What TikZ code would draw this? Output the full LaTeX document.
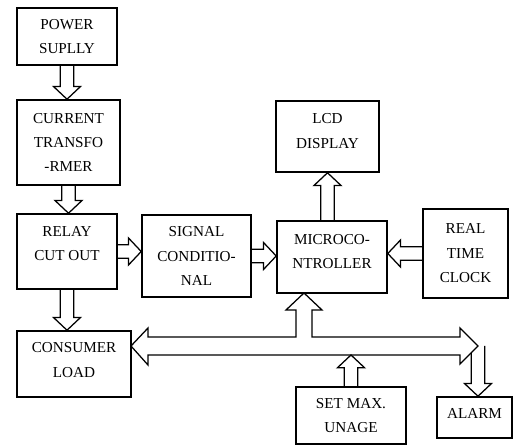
\documentclass[tikz,border=0pt]{standalone}
\usepackage{fontspec}
\setmainfont{Liberation Serif}
\usetikzlibrary{calc}

\tikzset{
  blk/.style={draw, line width=1.1pt, align=center, inner sep=2pt},
  fatline/.style={line width=0.9pt, line join=miter},
}
% hollow block arrow from #1 to #2
\newcommand{\shaftw}{0.17cm}
\newcommand{\headw}{0.34cm}
\newcommand{\headl}{0.32cm}
\newcommand{\fatarrow}[2]{%
  \coordinate (fatbase) at ($(#2)!\headl!(#1)$);
  \draw[fatline] ($(#1)!\shaftw!90:(#2)$) -- ($(fatbase)!\shaftw!-90:(#1)$)
    -- ($(fatbase)!\headw!-90:(#1)$) -- (#2) -- ($(fatbase)!\headw!90:(#1)$)
    -- ($(fatbase)!\shaftw!90:(#1)$) -- ($(#1)!\shaftw!-90:(#2)$);}

\begin{document}
\begin{tikzpicture}[
  x=0.025cm, y=-0.025cm, font=\fontsize{10.8}{17.4}\selectfont
]
\useasboundingbox (0,0) rectangle (515,445);

% blocks
\node[blk, minimum width=2.5cm, minimum height=1.425cm] (ps) at (67,36.5) {POWER\\SUPLLY};
\node[blk, minimum width=2.575cm, minimum height=2.125cm] (ct) at (68.5,142.5) {CURRENT\\TRANSFO\\-RMER};
\node[blk, minimum width=2.5cm, minimum height=1.875cm, text depth=0.4cm] (rc) at (67,251.5) {RELAY\\CUT OUT};
\node[blk, minimum width=2.725cm, minimum height=2.05cm] (sc) at (196.5,256) {SIGNAL\\CONDITIO-\\NAL};
\node[blk, minimum width=2.85cm, minimum height=1.65cm, text depth=0.2cm] (cl) at (74,364) {CONSUMER\\LOAD};
\node[blk, minimum width=2.575cm, minimum height=1.775cm, text depth=0.275cm] (lcd) at (327.5,136.5) {LCD\\DISPLAY};
\node[blk, minimum width=2.75cm, minimum height=1.8cm, text depth=0.275cm] (mc) at (332,257) {MICROCO-\\NTROLLER};
\node[blk, minimum width=2.125cm, minimum height=2.225cm] (rtc) at (465.5,253.5) {REAL\\TIME\\CLOCK};
\node[blk, minimum width=2.75cm, minimum height=1.425cm] (sm) at (351,415.5) {SET MAX.\\UNAGE};
\node[blk, minimum width=1.875cm, minimum height=1.025cm, text depth=0.225cm] (al) at (474.5,417.5) {ALARM};

% simple arrows
\fatarrow{ps.south}{ps.south |- ct.north}
\fatarrow{ct.south}{ct.south |- rc.north}
\fatarrow{rc.east}{rc.east -| sc.west}
\fatarrow{rc.south}{rc.south |- cl.north}
\fatarrow{sc.east}{sc.east -| mc.west}
\fatarrow{rtc.west}{rtc.west -| mc.east}
\fatarrow{lcd.south |- mc.north}{lcd.south}

% bus
\coordinate (busL) at (131,346);
\coordinate (busR) at (478,346);
\coordinate (busU) at (304,293);
\coordinate (buslow) at (148,355);
\fatarrow{busR}{busR |- al.north}
\draw[fatline, fill=white] (busL) -- (148,328) -- (148,337) -- (296,337) -- (296,310)
  -- (286,310) -- (busU) -- (322,310) -- (312,310) -- (312,337) -- (460,337)
  -- (460,328) -- (busR) -- (460,364) -- (460,355) -- (buslow) -- (148,365) -- cycle;
\fatarrow{sm.north}{sm.north |- buslow}
\end{tikzpicture}
\end{document}
